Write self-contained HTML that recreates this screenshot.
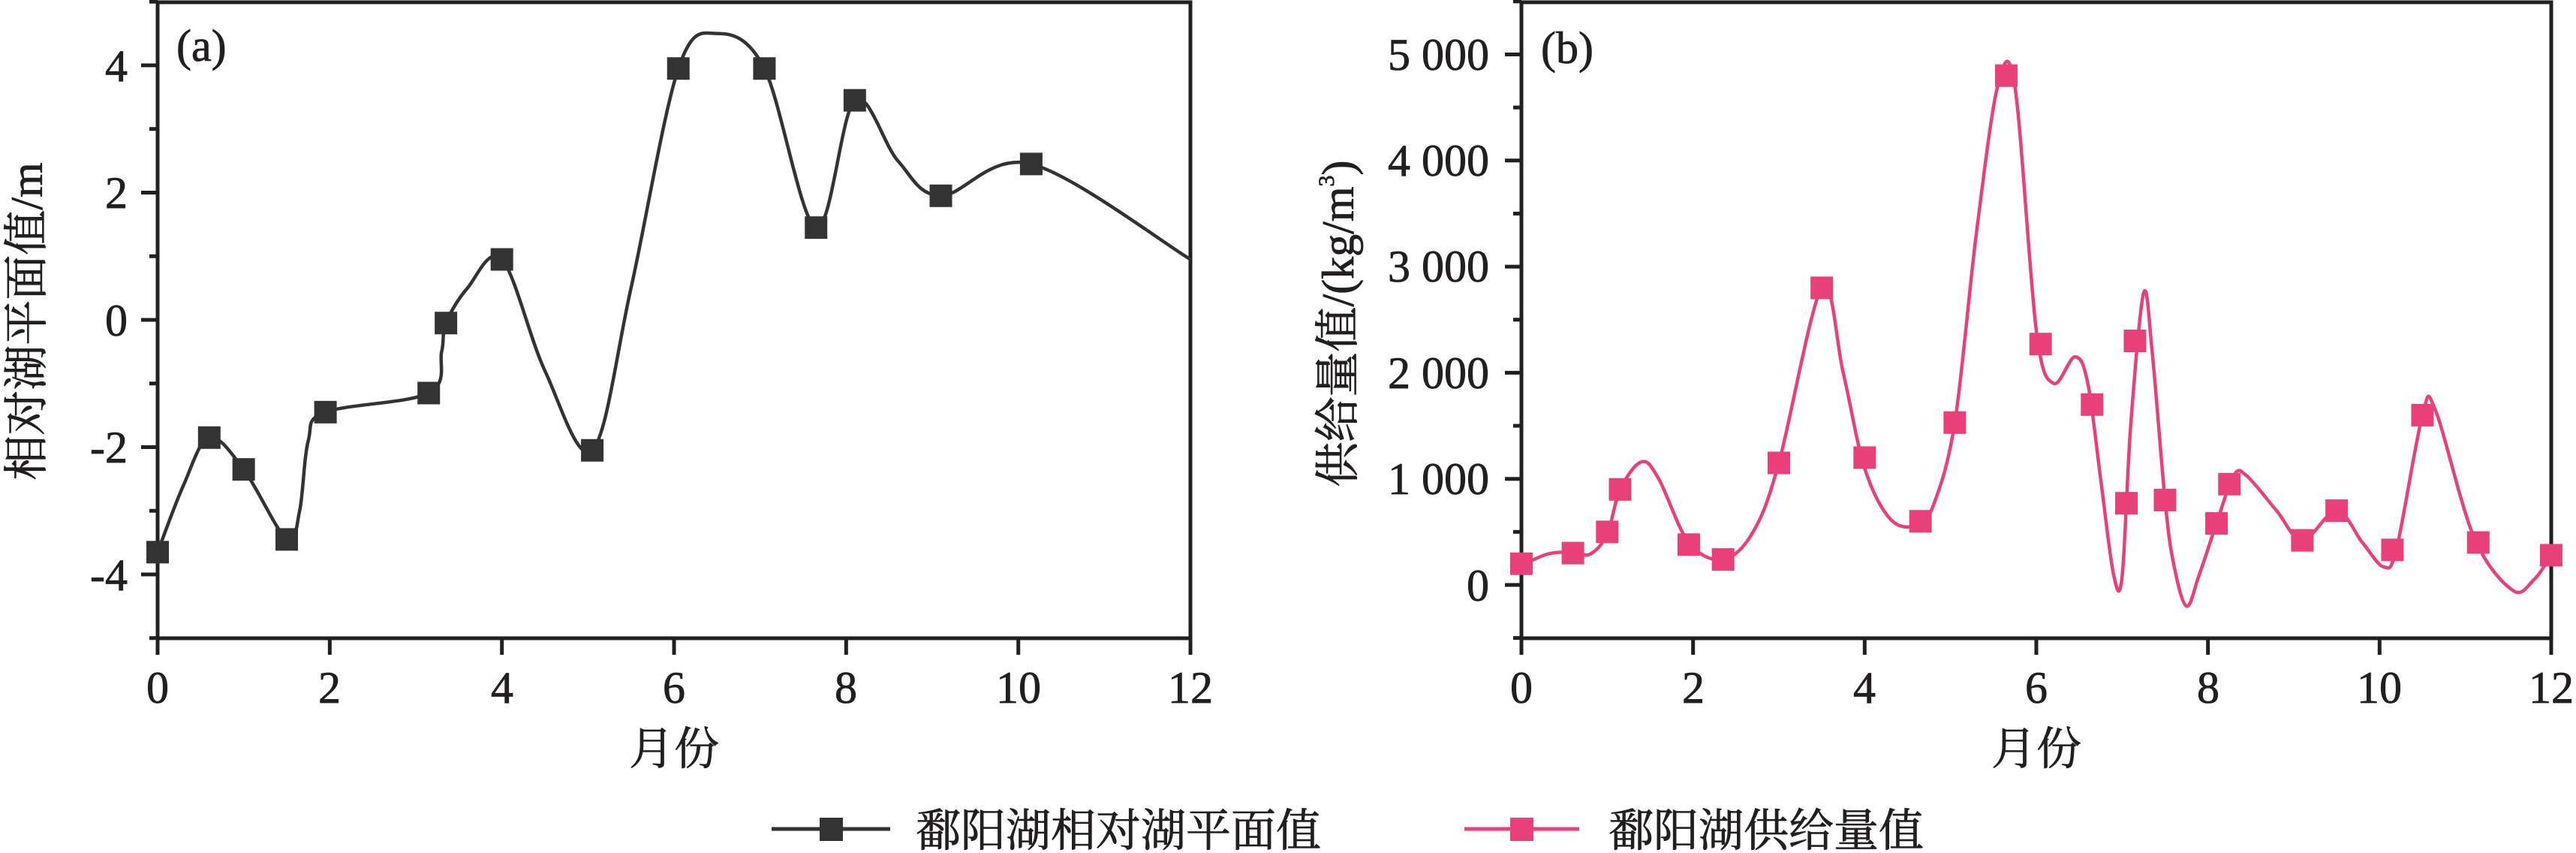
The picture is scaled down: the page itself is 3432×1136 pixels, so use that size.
<!DOCTYPE html>
<html><head><meta charset="utf-8">
<style>
html,body{margin:0;padding:0;background:#fff;}
svg{display:block;}
text{font-family:"Liberation Serif","Noto Serif CJK SC",serif;fill:#231f20;stroke:#231f20;stroke-width:0.8;}
.cn{font-family:"Liberation Serif","Noto Serif CJK SC","Noto Sans CJK SC",serif;}
</style></head>
<body>
<svg id="s" width="3432" height="1136" viewBox="0 0 3432 1136" xmlns="http://www.w3.org/2000/svg">
<g stroke="#231f20" stroke-width="5" fill="none">
<rect x="210" y="3" width="1376" height="847"/>
<rect x="2027" y="3" width="1372" height="847"/>
</g>
<g id="ticks" stroke="#231f20" stroke-width="5"></g>
<path id="ca" fill="none" stroke="#333" stroke-width="4.5"/>
<path id="cb" fill="none" stroke="#e8417a" stroke-width="4.5"/>
<g id="ma" fill="#333"></g>
<g id="mb" fill="#e8417a"></g>
<g font-size="60" text-anchor="end">
<text x="170" y="108">4</text>
<text x="170" y="277">2</text>
<text x="170" y="447">0</text>
<text x="170" y="616">-2</text>
<text x="170" y="786">-4</text>
</g>
<g font-size="60" text-anchor="middle">
<text x="210" y="936">0</text>
<text x="439" y="936">2</text>
<text x="669" y="936">4</text>
<text x="898" y="936">6</text>
<text x="1127" y="936">8</text>
<text x="1357" y="936">10</text>
<text x="1586" y="936">12</text>
</g>
<g font-size="60" text-anchor="end">
<text x="1984" y="93">5 000</text>
<text x="1984" y="234">4 000</text>
<text x="1984" y="375">3 000</text>
<text x="1984" y="517">2 000</text>
<text x="1984" y="658">1 000</text>
<text x="1984" y="800">0</text>
</g>
<g font-size="60" text-anchor="middle">
<text x="2027" y="936">0</text>
<text x="2256" y="936">2</text>
<text x="2484" y="936">4</text>
<text x="2713" y="936">6</text>
<text x="2942" y="936">8</text>
<text x="3170" y="936">10</text>
<text x="3399" y="936">12</text>
</g>
<text x="235" y="81" font-size="60">(a)</text>
<text x="2053" y="84" font-size="60">(b)</text>
<text class="cn" x="898" y="1018" font-size="60" text-anchor="middle">月份</text>
<text class="cn" x="2713" y="1018" font-size="60" text-anchor="middle">月份</text>
<text class="cn" font-size="60" text-anchor="middle" transform="translate(56,428) rotate(-90)">相对湖平面值/m</text>
<text class="cn" font-size="60" text-anchor="middle" transform="translate(1803,431) rotate(-90)">供给量值/(kg/m<tspan font-size="30" dy="-26">3</tspan><tspan dy="26">)</tspan></text>
<line x1="1028" y1="1104" x2="1186" y2="1104" stroke="#333" stroke-width="5"/>
<rect x="1092" y="1089" width="31" height="31" fill="#333"/>
<text class="cn" x="1220" y="1127" font-size="60">鄱阳湖相对湖平面值</text>
<line x1="1951" y1="1104" x2="2104" y2="1104" stroke="#e8417a" stroke-width="5"/>
<rect x="2012" y="1089" width="31" height="31" fill="#e8417a"/>
<text class="cn" x="2143" y="1127" font-size="60">鄱阳湖供给量值</text>
</svg>
<script>
(function(){
var NS="http://www.w3.org/2000/svg";
function ax(x){return 210+x*114.67;}
function ay(v){return 426-v*84.75;}
function bx(x){return 2027+x*114.33;}
function by(v){return 779-v*0.1413;}
var t=document.getElementById('ticks');
function ln(x1,y1,x2,y2){var l=document.createElementNS(NS,'line');l.setAttribute('x1',x1);l.setAttribute('y1',y1);l.setAttribute('x2',x2);l.setAttribute('y2',y2);t.appendChild(l);}
for(var i=-5;i<=5;i++){var y=ay(i);ln(210,y,(i%2===0)?188:199,y);}
for(var i=0;i<=12;i+=2){ln(ax(i),850,ax(i),872);ln(bx(i),850,bx(i),872);}
for(var v=-500;v<=5500;v+=500){var y=by(v);ln(2027,y,(v%1000===0)?2005:2016,y);}
function cr(pts){var d='M'+pts[0][0].toFixed(1)+','+pts[0][1].toFixed(1);
for(var i=0;i<pts.length-1;i++){var p0=pts[i>0?i-1:i],p1=pts[i],p2=pts[i+1],p3=pts[i+2<pts.length?i+2:i+1];
var c1x=p1[0]+(p2[0]-p0[0])/6,c1y=p1[1]+(p2[1]-p0[1])/6,c2x=p2[0]-(p3[0]-p1[0])/6,c2y=p2[1]-(p3[1]-p1[1])/6;
d+='C'+c1x.toFixed(1)+','+c1y.toFixed(1)+' '+c2x.toFixed(1)+','+c2y.toFixed(1)+' '+p2[0].toFixed(1)+','+p2[1].toFixed(1);}
return d;}
var A=[[0,-3.65],[0.3,-2.6],[0.6,-1.85],[1.0,-2.35],[1.5,-3.45],[1.65,-3.0],[1.75,-1.9],[1.95,-1.45],[3.15,-1.15],[3.3,-0.5],[3.35,-0.05],[3.6,0.5],[4.0,0.95],[4.5,-0.8],[5.05,-2.05],[5.5,0.5],[6.05,3.95],[6.5,4.5],[7.05,3.95],[7.65,1.45],[8.1,3.45],[8.6,2.5],[9.1,1.95],[10.15,2.45],[12,0.95]];
document.getElementById('ca').setAttribute('d',cr(A.map(function(p){return [ax(p[0]),ay(p[1])];})));
var AM=[[0,-3.65],[0.6,-1.85],[1.0,-2.35],[1.5,-3.45],[1.95,-1.45],[3.15,-1.15],[3.35,-0.05],[4.0,0.95],[5.05,-2.05],[6.05,3.95],[7.05,3.95],[7.65,1.45],[8.1,3.45],[9.1,1.95],[10.15,2.45]];
var ma=document.getElementById('ma');
AM.forEach(function(p){var r=document.createElementNS(NS,'rect');r.setAttribute('x',ax(p[0])-15);r.setAttribute('y',ay(p[1])-15);r.setAttribute('width',30);r.setAttribute('height',30);ma.appendChild(r);});
var B=[[0,180],[0.3,290],[0.6,310],[0.8,290],[1.0,480],[1.15,900],[1.4,1160],[1.6,1000],[1.95,400],[2.35,240],[2.7,500],[3.0,1150],[3.5,2800],[3.75,2000],[4.0,1100],[4.3,620],[4.6,560],[4.8,750],[5.05,1530],[5.3,3300],[5.55,4700],[5.75,4700],[6.0,2400],[6.2,1900],[6.45,2150],[6.6,1900],[6.75,1000],[6.9,100],[7.0,80],[7.1,1500],[7.25,2750],[7.35,2200],[7.5,800],[7.6,200],[7.75,-200],[7.9,100],[8.1,580],[8.3,1030],[8.45,1030],[8.8,700],[9.1,420],[9.5,700],[9.8,400],[10.05,170],[10.2,350],[10.5,1600],[10.65,1650],[11.1,450],[11.55,-50],[11.8,50],[12,280]];
document.getElementById('cb').setAttribute('d',cr(B.map(function(p){return [bx(p[0]),by(p[1])];})));
var BM=[[0,200],[0.6,300],[1.0,500],[1.15,900],[1.95,380],[2.35,240],[3.0,1150],[3.5,2800],[4.0,1200],[4.65,600],[5.05,1530],[5.65,4800],[6.05,2270],[6.65,1700],[7.05,770],[7.15,2300],[7.5,800],[8.1,580],[8.25,950],[9.1,420],[9.5,700],[10.15,330],[10.5,1600],[11.15,400],[12,280]];
var mb=document.getElementById('mb');
BM.forEach(function(p){var r=document.createElementNS(NS,'rect');r.setAttribute('x',bx(p[0])-15);r.setAttribute('y',by(p[1])-15);r.setAttribute('width',30);r.setAttribute('height',30);mb.appendChild(r);});
})();
</script>
</body></html>
